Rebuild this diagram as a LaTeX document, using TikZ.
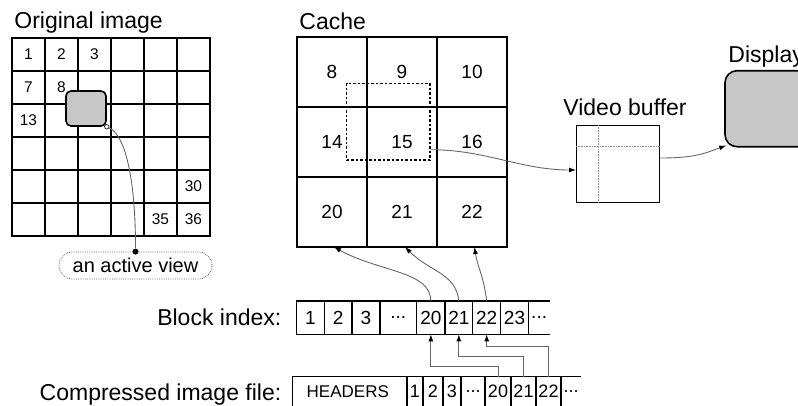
\documentclass[tikz,border=0pt]{standalone}
\usepackage{fontspec}
\setmainfont{Liberation Sans}
\usetikzlibrary{arrows.meta,positioning,shapes.misc}

\begin{document}
\begin{tikzpicture}[
    x = 1pt, y = -1pt, % pixel grid, y runs downwards
    > = {Latex[length=7pt,width=5pt,color=black]}, % arrow head style
    thick % line style
    ]

    \tikzset{
    ocell/.style = {draw, line width=1.6pt, minimum size=33pt, inner sep=0pt, outer sep=0pt},
    kcell/.style = {draw, line width=1.6pt, minimum size=70pt, inner sep=0pt, outer sep=0pt,
                    font=\fontsize{19}{21}\selectfont},
    bcell/.style = {draw, line width=1.2pt, minimum height=33.3pt, inner sep=0pt, outer sep=0pt,
                    font=\fontsize{19}{21}\selectfont},
    fcell/.style = {draw, line width=1.2pt, minimum height=30pt, inner sep=0pt, outer sep=0pt,
                    font=\fontsize{18}{20}\selectfont},
    title/.style = {font=\fontsize{23}{25}\selectfont, inner sep=0pt},
    link/.style = {draw=black!60, line width=0.9pt},
    view/.style = {draw, line width=1.6pt, fill=black!22, rounded corners=5pt,
                   minimum width=40pt, minimum height=35pt},
    hole/.style = {circle, draw, fill=white, line width=0.6pt, inner sep=0pt, minimum size=4.5pt},
    knob/.style = {circle, fill=black, inner sep=0pt, minimum size=6pt},
    tag/.style = {rounded rectangle, draw=black!60, densely dotted, line width=0.8pt,
                  minimum width=153pt, minimum height=27pt, inner sep=0pt,
                  font=\fontsize{20}{22}\selectfont},
    window/.style = {draw, line width=1.3pt, dash pattern=on 2.5pt off 2pt,
                     minimum width=83.3pt, minimum height=76.7pt},
    buffer/.style = {draw, line width=1.4pt, minimum width=82.6pt, minimum height=76.6pt},
    screen/.style = {draw, line width=1.6pt, fill=black!22, rounded corners=12pt,
                     minimum width=120pt, minimum height=76pt}
    }

    \clip (0,0) rectangle (798,405);

    % original image
    \node[title, anchor=base west] (origtitle) at (14,28) {Original image};
    \foreach \r in {0,...,5}
      \foreach \c in {0,...,5}
      {
        \pgfmathtruncatemacro\n{6*\r+\c+1}
        \node[ocell] (o\n) at (28.5+33*\c, 54.5+33*\r) {};
      }
    \foreach \n in {1,2,3,7,8,13,30,35,36}
      \node[font=\fontsize{15.5}{17}\selectfont] at (o\n) {\n};

    \node[view] (view) at (86,108.5) {};
    \node[hole] (hole) at (view.south east) {};
    \node[tag] (tag) at (135.5,265.5) {an active view};
    \node[knob] (knob) at (tag.north) {};
    \draw[link] (hole) .. controls +(18,8) and +(0,-75) .. (knob);

    % cache
    \node[title, anchor=base west] (cachetitle) at (299,29) {Cache};
    \foreach \n [count=\i from 0] in {8,9,10,14,15,16,20,21,22}
    {
      \pgfmathtruncatemacro\r{\i/3}
      \pgfmathtruncatemacro\c{mod(\i,3)}
      \node[kcell] (k\n) at (332+70*\c, 72+70*\r) {\n};
    }
    \node[window] (win) at (388.3,121.7) {};
    \coordinate (tap) at ([yshift=11pt]win.south east);

    % video buffer and display
    \node[buffer] (buf) at (618,164) {};
    \node[title, above=9pt of buf, xshift=7pt] (buftitle) {Video buffer};
    \draw[black!45, densely dotted, line width=0.6pt]
      ([xshift=22.3pt]buf.north west) -- ([xshift=22.3pt]buf.south west)
      ([yshift=-21.6pt]buf.north west) -- ([yshift=-21.6pt]buf.north east);

    \node[screen] (disp) at (785,108.7) {};
    \node[title, anchor=base west] (disptitle) at (728,62) {Display};

    \draw[link,->] (tap) .. controls +(55,0) and +(-55,0) .. ([yshift=-6pt]buf.west);
    \draw[link,->] ([yshift=6pt]buf.east) .. controls +(35,0) and +(-22,8)
      .. ([shift={(2pt,2pt)}]disp.south west);

    % block index
    \node[bcell, minimum width=27.6pt] (b1) at (310.5,317.7) {1};
    \node[bcell, minimum width=27.7pt, right=0pt of b1] (b2) {2};
    \node[bcell, minimum width=28pt, right=0pt of b2] (b3) {3};
    \node[bcell, minimum width=36.7pt, right=0pt of b3] (bdots) {...};
    \node[bcell, minimum width=28.3pt, right=0pt of bdots] (b20) {20};
    \node[bcell, minimum width=27.7pt, right=0pt of b20] (b21) {21};
    \node[bcell, minimum width=28pt, right=0pt of b21] (b22) {22};
    \node[bcell, minimum width=27.6pt, right=0pt of b22] (b23) {23};
    \node[bcell, draw=none, minimum width=21.7pt, right=0pt of b23] (bmore) {...};
    \draw[line width=1.2pt] (b23.north east) -- (bmore.north east)
      (b23.south east) -- (bmore.south east);
    \node[title, left=15pt of b1] (bidx) {Block index:};

    % compressed file
    \node[fcell, minimum width=114.7pt] (fhead) at (349.65,391.7) {};
    \node[anchor=west, inner sep=0pt, font=\fontsize{17}{19}\selectfont]
      at ([xshift=14pt]fhead.west) {HEADERS};
    \node[fcell, minimum width=16pt, right=0pt of fhead] (f1) {1};
    \node[fcell, minimum width=20pt, right=0pt of f1] (f2) {2};
    \node[fcell, minimum width=18pt, right=0pt of f2] (f3) {3};
    \node[fcell, minimum width=24pt, right=0pt of f3] (fdots) {...};
    \node[fcell, minimum width=26pt, right=0pt of fdots] (f20) {20};
    \node[fcell, minimum width=25pt, right=0pt of f20] (f21) {21};
    \node[fcell, minimum width=25pt, right=0pt of f21] (f22) {22};
    \node[fcell, draw=none, minimum width=20pt, right=0pt of f22] (fmore) {...};
    \draw[line width=1.2pt] (f22.north east) -- (fmore.north east)
      (f22.south east) -- (fmore.south east);
    \node[title, left=10.6pt of fhead, yshift=-2.5pt] (fidx) {Compressed image file:};

    % file -> index
    \draw[link,->] (f20.north) -- ++(0,-10) -| (b20.south);
    \draw[link,->] (f21.north) -- ++(0,-20.7) -| (b21.south);
    \draw[link,->] (f22.north) -- ++(0,-30.7) -| (b22.south);

    % index -> cache
    \draw[link,->] (b20.north) .. controls +(0,-30) and +(45,25) .. ([xshift=2pt]k20.south);
    \draw[link,->] (b21.north) .. controls +(-3,-28) and +(25,25) .. ([xshift=3pt]k21.south);
    \draw[link,->] (b22.north) .. controls +(-3,-25) and +(3,20) .. ([xshift=2.5pt]k22.south);
\end{tikzpicture}
\end{document}
